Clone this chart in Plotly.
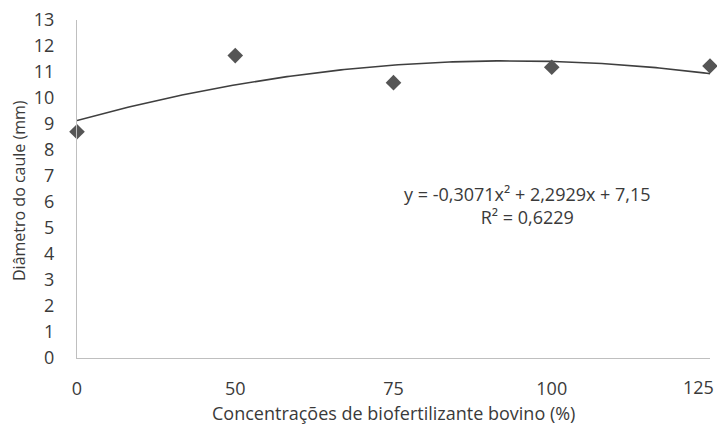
import numpy as np
import plotly.graph_objects as go

# Biofertilizer concentration categories and measured stem diameter
concentracoes = ["0", "50", "75", "100", "125"]
posicoes = [1, 2, 3, 4, 5]
diametro = [8.70, 11.63, 10.59, 11.18, 11.23]

# Second-order polynomial trendline coefficients (x = category index)
coef_a, coef_b, coef_c = -0.3071, 2.2929, 7.15
r2 = 0.6229

y_ticks = list(range(0, 14))

FONT = "Open Sans"
TXT = "#3a3a3a"
FS = 18

# plot-area geometry in pixels
W, H = 717, 428
L, R, T, B = 77, 7, 20, 70
pw, ph = W - L - R, H - T - B


def px_x(p):
    return (p - L) / pw


def px_y(p):
    return (T + ph - p) / ph


xs = np.linspace(1, 5, 200)
ys = coef_a * xs**2 + coef_b * xs + coef_c

fig = go.Figure()
fig.add_trace(go.Scatter(
    x=xs, y=ys, mode="lines",
    line=dict(color="#3f3f3f", width=1.6),
    hoverinfo="skip", showlegend=False, cliponaxis=False,
))
fig.add_trace(go.Scatter(
    x=posicoes, y=diametro, mode="markers",
    marker=dict(symbol="diamond", size=12, color="#555555"),
    showlegend=False, cliponaxis=False,
))

fmt = lambda v: f"{v:.4f}".replace(".", ",")
eq_text = (f"y = {fmt(coef_a)}x² + {fmt(coef_b)}x + {str(coef_c).replace('.', ',')}"
           f"<br>R² = {fmt(r2)}")
fig.add_annotation(
    x=px_x(527), y=px_y(206), xref="paper", yref="paper",
    xanchor="center", yanchor="middle",
    text=eq_text, showarrow=False, align="center",
    font=dict(family=FONT, size=18, color=TXT),
)

# last category label sits inside the right edge of the axis
tick_text = concentracoes[:-1] + [""]
fig.add_annotation(
    x=posicoes[-1], y=0, xref="x", yref="paper",
    xanchor="center", yanchor="top", xshift=-12, yshift=-15,
    text=concentracoes[-1], showarrow=False,
    font=dict(family=FONT, size=FS, color=TXT),
)

# axis titles
fig.add_annotation(
    x=px_x(393), y=px_y(413), xref="paper", yref="paper",
    xanchor="center", yanchor="middle",
    text="Concentrações de biofertilizante bovino (%)", showarrow=False,
    font=dict(family=FONT, size=18, color=TXT),
)
fig.add_annotation(
    x=px_x(19), y=px_y(191), xref="paper", yref="paper",
    xanchor="center", yanchor="middle", textangle=-90,
    text="Diâmetro do caule (mm)", showarrow=False,
    font=dict(family=FONT, size=16, color=TXT),
)

fig.update_layout(
    width=W, height=H,
    margin=dict(l=L, r=R, t=T, b=B),
    paper_bgcolor="white", plot_bgcolor="white",
    font=dict(family=FONT, size=FS, color=TXT),
    xaxis=dict(
        range=[1, 5], tickvals=posicoes, ticktext=tick_text,
        showgrid=False, zeroline=False, showline=True,
        linecolor="#bfbfbf", linewidth=1, ticks="",
        ticklabelstandoff=14, automargin=False,
        tickfont=dict(family=FONT, size=FS, color=TXT),
    ),
    yaxis=dict(
        range=[0, 13], tickvals=y_ticks,
        showgrid=False, zeroline=False, showline=True,
        linecolor="#bfbfbf", linewidth=1, ticks="",
        ticklabelstandoff=18, automargin=False,
        tickfont=dict(family=FONT, size=FS, color=TXT),
    ),
)

fig.write_html("out.html")
